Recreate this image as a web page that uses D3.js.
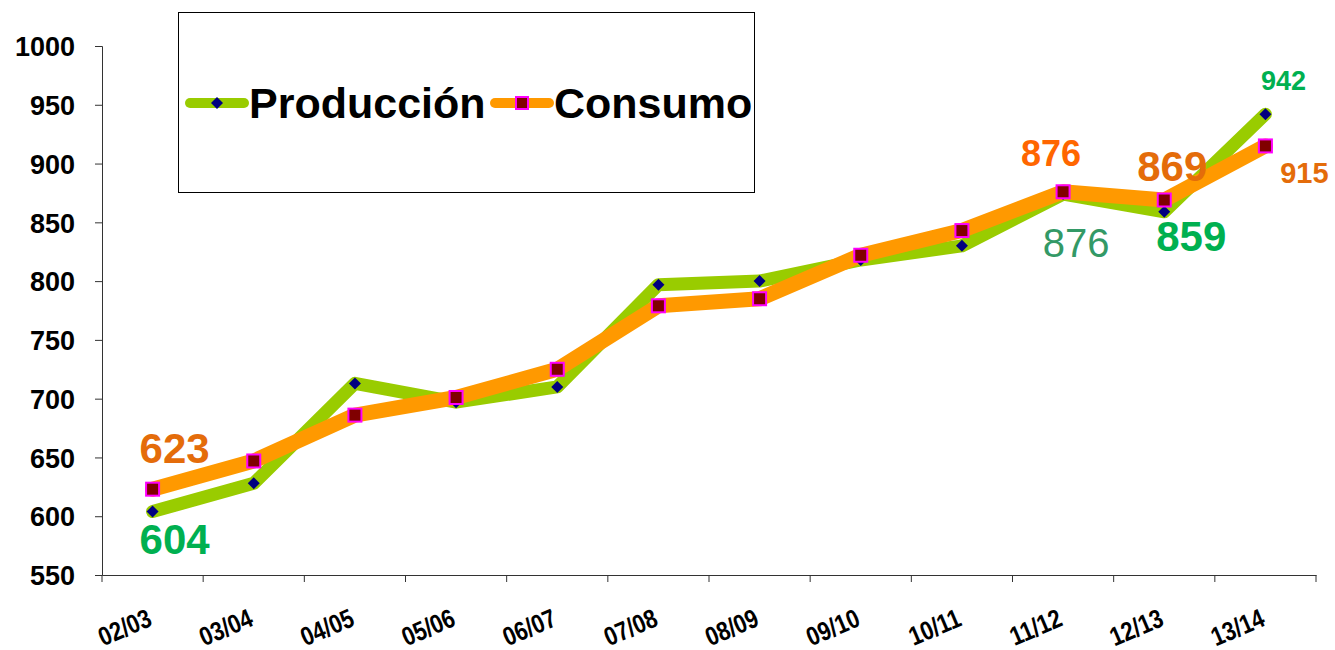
<!DOCTYPE html>
<html>
<head>
<meta charset="utf-8">
<script src="https://cdn.jsdelivr.net/npm/d3@7"></script>
<style>
  body { margin: 0; background: #fff; }
  svg { font-family: "Liberation Sans", Arial, sans-serif; }
</style>
</head>
<body>
<div class="canvas-container"></div>
<script>
var seasons = ["02/03", "03/04", "04/05", "05/06", "06/07", "07/08", "08/09", "09/10", "10/11", "11/12", "12/13", "13/14"];
var produccion = [604, 628, 713, 697, 710, 797, 800, 818, 830, 874, 859, 942];
var consumo = [623, 647, 686, 701, 725, 779, 785, 822, 843, 876, 869, 915];
var yTicks = [550, 600, 650, 700, 750, 800, 850, 900, 950, 1000];

// value labels as placed in the original (series, index, text)
var labels = [
    { s: "c", i: 0, text: "623", color: "#e46c0a", size: 42, weight: "bold", dx: 22, dy: -26 },
    { s: "p", i: 0, text: "604", color: "#00b050", size: 42, weight: "bold", dx: 22, dy: 42 },
    { s: "c", i: 9, text: "876", color: "#ff6600", size: 36, weight: "bold", dx: -12, dy: -26 },
    { s: "p", i: 9, text: "876", color: "#339966", size: 40, weight: "normal", dx: 13, dy: 63 },
    { s: "c", i: 10, text: "869", color: "#e46c0a", size: 42, weight: "bold", dx: 8, dy: -19 },
    { s: "p", i: 10, text: "859", color: "#00b050", size: 42, weight: "bold", dx: 27, dy: 39 },
    { s: "p", i: 11, text: "942", color: "#00b050", size: 27, weight: "bold", dx: 18, dy: -24 },
    { s: "c", i: 11, text: "915", color: "#e46c0a", size: 29, weight: "bold", dx: 39, dy: 37 }
];

var width = 1335, height = 650;
var margin = { left: 102, right: 19, top: 46, bottom: 75 };

var svg = d3.select("div.canvas-container")
    .append("svg")
    .attr("width", width)
    .attr("height", height);

var x = d3.scaleBand()
    .domain(seasons)
    .range([margin.left, width - margin.right]);

var y = d3.scaleLinear()
    .domain([550, 1000])
    .range([height - margin.bottom, margin.top]);

function cx(d, i) { return x(seasons[i]) + x.bandwidth() / 2; }

// y axis
var yAxis = svg.append("g")
    .attr("transform", "translate(" + margin.left + ",0)")
    .call(d3.axisLeft(y).tickValues(yTicks).tickSize(7).tickPadding(20).tickFormat(d3.format("d")));
yAxis.select(".domain").attr("stroke", "#333");
yAxis.selectAll(".tick line").attr("stroke", "#333");
yAxis.selectAll(".tick text")
    .attr("fill", "#000")
    .style("font-size", "27px")
    .style("font-weight", "bold")
    .attr("dy", "0.36em");

// x axis
var xAxis = svg.append("g")
    .attr("transform", "translate(0," + y(550) + ")")
    .call(d3.axisBottom(x).tickSize(0).tickFormat(""));
xAxis.select(".domain").attr("stroke", "#333");

svg.append("g")
    .selectAll("line")
    .data(seasons.concat(["end"]))
    .enter()
    .append("line")
    .attr("x1", function(d, i) { return margin.left + i * x.bandwidth(); })
    .attr("x2", function(d, i) { return margin.left + i * x.bandwidth(); })
    .attr("y1", y(550))
    .attr("y2", y(550) + 7)
    .attr("stroke", "#333");

// category labels: slanted and a little stretched, like the original
svg.append("g")
    .selectAll("text")
    .data(seasons)
    .enter()
    .append("text")
    .attr("text-anchor", "end")
    .attr("transform", function(d, i) {
        return "translate(" + (cx(d, i) + 1) + "," + (y(550) + 50) + ") rotate(-23) scale(1,1.2)";
    })
    .style("font-size", "22px")
    .style("font-weight", "bold")
    .text(function(d) { return d; });

// lines
var line = d3.line()
    .x(function(d, i) { return cx(d, i); })
    .y(function(d) { return y(d); });

svg.append("path")
    .datum(produccion)
    .attr("d", line)
    .attr("fill", "none")
    .attr("stroke", "#99cc00")
    .attr("stroke-width", 13)
    .attr("stroke-linejoin", "round")
    .attr("stroke-linecap", "round");

svg.append("path")
    .datum(consumo)
    .attr("d", line)
    .attr("fill", "none")
    .attr("stroke", "#ff9900")
    .attr("stroke-width", 15)
    .attr("stroke-linejoin", "round")
    .attr("stroke-linecap", "round");

// markers
svg.append("g")
    .selectAll("path")
    .data(produccion)
    .enter()
    .append("path")
    .attr("d", "M0,-6L6,0L0,6L-6,0Z")
    .attr("transform", function(d, i) { return "translate(" + cx(d, i) + "," + y(d) + ")"; })
    .attr("fill", "#000080");

svg.append("g")
    .selectAll("rect")
    .data(consumo)
    .enter()
    .append("rect")
    .attr("x", function(d, i) { return cx(d, i) - 6.5; })
    .attr("y", function(d) { return y(d) - 6.5; })
    .attr("width", 13)
    .attr("height", 13)
    .attr("fill", "#800000")
    .attr("stroke", "#ff00ff")
    .attr("stroke-width", 2);

// value labels
svg.append("g")
    .selectAll("text")
    .data(labels)
    .enter()
    .append("text")
    .attr("text-anchor", "middle")
    .attr("x", function(d) { return cx(null, d.i) + d.dx; })
    .attr("y", function(d) { return y(d.s === "p" ? produccion[d.i] : consumo[d.i]) + d.dy; })
    .attr("fill", function(d) { return d.color; })
    .style("font-size", function(d) { return d.size + "px"; })
    .style("font-weight", function(d) { return d.weight; })
    .text(function(d) { return d.text; });

// legend
var legend = svg.append("g");
legend.append("rect")
    .attr("x", 178.5).attr("y", 12.5)
    .attr("width", 576).attr("height", 180)
    .attr("fill", "#fff")
    .attr("stroke", "#000");

var legendItems = [
    { name: "Producción", color: "#99cc00", lx: 190, tx: 249, marker: "diamond" },
    { name: "Consumo", color: "#ff9900", lx: 495, tx: 554, marker: "square" }
];
var leg = legend.selectAll("g.item")
    .data(legendItems)
    .enter()
    .append("g")
    .attr("class", "item");
leg.append("line")
    .attr("x1", function(d) { return d.lx; })
    .attr("x2", function(d) { return d.lx + 54; })
    .attr("y1", 103).attr("y2", 103)
    .attr("stroke", function(d) { return d.color; })
    .attr("stroke-width", 10)
    .attr("stroke-linecap", "round");
leg.filter(function(d) { return d.marker === "diamond"; })
    .append("path")
    .attr("d", "M0,-6L6,0L0,6L-6,0Z")
    .attr("transform", function(d) { return "translate(" + (d.lx + 27) + ",103)"; })
    .attr("fill", "#000080");
leg.filter(function(d) { return d.marker === "square"; })
    .append("rect")
    .attr("x", function(d) { return d.lx + 27 - 6; })
    .attr("y", 97)
    .attr("width", 12).attr("height", 12)
    .attr("fill", "#800000")
    .attr("stroke", "#ff00ff")
    .attr("stroke-width", 2);
leg.append("text")
    .attr("x", function(d) { return d.tx; })
    .attr("y", 118)
    .style("font-size", "43px")
    .style("font-weight", "bold")
    .text(function(d) { return d.name; });
</script>
</body>
</html>
